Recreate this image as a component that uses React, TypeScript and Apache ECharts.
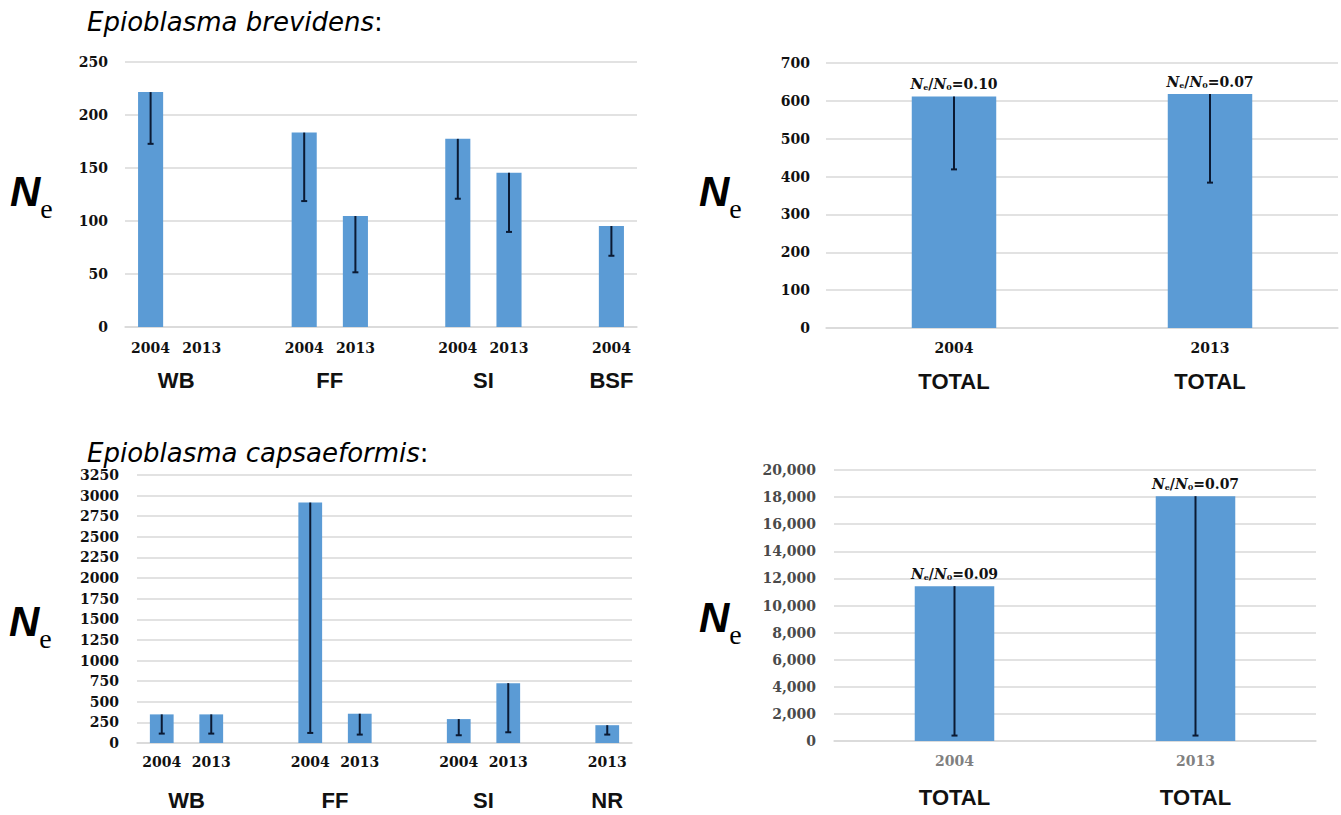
import { useEffect, useRef } from "react";
import * as echarts from "echarts";

// Epioblasma brevidens, per site and sampling year
const brevYears = ["2004", "2013", "", "2004", "2013", "", "2004", "2013", "", "2004"];
const brevSites = ["WB", "WB", "", "FF", "FF", "", "SI", "SI", "", "BSF"];
const brevNe = [221.6, null, null, 183.4, 104.7, null, 177.5, 145.6, null, 95.3];
const brevLower = [172.8, null, null, 118.8, 51.6, null, 121, 89.7, null, 67.2];

// Epioblasma brevidens, all sites pooled
const brevTotalYears = ["2004", "2013"];
const brevTotalSites = ["TOTAL", "TOTAL"];
const brevTotalNe = [611.7, 617.9];
const brevTotalLower = [419, 384];
const brevRatios = ["0.10", "0.07"];

// Epioblasma capsaeformis, per site and sampling year
const capsYears = ["2004", "2013", "", "2004", "2013", "", "2004", "2013", "", "2013"];
const capsSites = ["WB", "WB", "", "FF", "FF", "", "SI", "SI", "", "NR"];
const capsNe = [347, 347, null, 2916, 355, null, 290, 726, null, 216];
const capsLower = [114, 114, null, 122, 102, null, 94, 130, null, 102];

// Epioblasma capsaeformis, all sites pooled
const capsTotalYears = ["2004", "2013"];
const capsTotalSites = ["TOTAL", "TOTAL"];
const capsTotalNe = [11429, 18070];
const capsTotalLower = [401, 401];
const capsRatios = ["0.09", "0.07"];

const BAR = "#5B9BD5";
const GRID_LINE = "#d9d9d9";
const WHISKER = "#0b1a33";
const NUM_FONT = "DejaVu Serif";
const SANS = "Liberation Sans";

type Panel = {
  grid: { left: number; top: number; width: number; height: number };
  years: string[];
  sites: string[];
  ne: (number | null)[];
  lower: (number | null)[];
  ratios?: string[];
  mergeSites: boolean;
  yMax: number;
  yInterval: number;
  barWidth: string;
  yearMargin: number;
  siteMargin: number;
  yMargin: number;
  yColor: string;
  yearColor: string;
  thousands?: boolean;
};

const panels: Panel[] = [
  {
    grid: { left: 125, top: 62, width: 512, height: 265 },
    years: brevYears, sites: brevSites, ne: brevNe, lower: brevLower,
    mergeSites: true, yMax: 250, yInterval: 50, barWidth: "49%",
    yearMargin: 14, siteMargin: 42, yMargin: 17, yColor: "#111", yearColor: "#111",
  },
  {
    grid: { left: 826, top: 63, width: 518, height: 265 },
    years: brevTotalYears, sites: brevTotalSites, ne: brevTotalNe, lower: brevTotalLower,
    ratios: brevRatios,
    mergeSites: false, yMax: 700, yInterval: 100, barWidth: "33%",
    yearMargin: 13, siteMargin: 42, yMargin: 16, yColor: "#111", yearColor: "#111",
  },
  {
    grid: { left: 137, top: 475, width: 495, height: 268 },
    years: capsYears, sites: capsSites, ne: capsNe, lower: capsLower,
    mergeSites: true, yMax: 3250, yInterval: 250, barWidth: "48%",
    yearMargin: 12, siteMargin: 46, yMargin: 18, yColor: "#111", yearColor: "#111",
  },
  {
    grid: { left: 834, top: 470, width: 482, height: 271 },
    years: capsTotalYears, sites: capsTotalSites, ne: capsTotalNe, lower: capsTotalLower,
    ratios: capsRatios,
    mergeSites: false, yMax: 20000, yInterval: 2000, barWidth: "33%",
    yearMargin: 13, siteMargin: 45, yMargin: 18, yColor: "#4a4a4a", yearColor: "#808080",
    thousands: true,
  },
];

// Centre of each site's run of categories, in category-slot units
function siteCentres(sites: string[], merge: boolean): Map<number, string> {
  const out = new Map<number, string>();
  let i = 0;
  while (i < sites.length) {
    if (!sites[i]) { i++; continue; }
    let j = i;
    if (merge) while (j + 1 < sites.length && sites[j + 1] === sites[i]) j++;
    out.set((i + j + 1) / 2, sites[i]);
    i = j + 1;
  }
  return out;
}

const ratioRich = {
  n: { fontFamily: NUM_FONT, fontStyle: "italic", fontWeight: "bold", fontSize: 14, color: "#111", lineHeight: 17, verticalAlign: "bottom" },
  s: { fontFamily: NUM_FONT, fontWeight: "bold", fontSize: 8, color: "#111", lineHeight: 17, verticalAlign: "bottom" },
  t: { fontFamily: NUM_FONT, fontWeight: "bold", fontSize: 14, color: "#111", lineHeight: 17, verticalAlign: "bottom" },
};

function buildOption() {
  const grid: any[] = [];
  const xAxis: any[] = [];
  const yAxis: any[] = [];
  const series: any[] = [];

  panels.forEach((p, i) => {
    grid.push({ ...p.grid, containLabel: false });
    const centres = siteCentres(p.sites, p.mergeSites);

    xAxis.push({
      type: "category",
      gridIndex: i,
      position: "bottom",
      data: p.years,
      axisLine: { show: true, lineStyle: { color: GRID_LINE, width: 1.5 } },
      axisTick: { show: false },
      axisLabel: {
        interval: 0,
        margin: p.yearMargin,
        fontFamily: NUM_FONT,
        fontWeight: "bold",
        fontSize: 14,
        color: p.yearColor,
      },
    });
    xAxis.push({
      type: "value",
      gridIndex: i,
      position: "bottom",
      offset: 0,
      min: 0,
      max: p.years.length,
      interval: 0.5,
      axisLine: { show: false },
      axisTick: { show: false },
      splitLine: { show: false },
      axisLabel: {
        margin: p.siteMargin,
        fontFamily: SANS,
        fontWeight: "bold",
        fontSize: 22,
        color: "#111",
        showMinLabel: true,
        showMaxLabel: true,
        formatter: (v: number) => centres.get(v) ?? "",
      },
    });
    yAxis.push({
      type: "value",
      gridIndex: i,
      min: 0,
      max: p.yMax,
      interval: p.yInterval,
      axisLine: { show: false },
      axisTick: { show: false },
      splitLine: { lineStyle: { color: GRID_LINE, width: 1.5 } },
      axisLabel: {
        margin: p.yMargin,
        fontFamily: NUM_FONT,
        fontWeight: "bold",
        fontSize: 14,
        color: p.yColor,
        formatter: (v: number) => (p.thousands ? v.toLocaleString("en-US") : String(v)),
      },
    });

    const ratios = p.ratios;
    series.push({
      type: "bar",
      xAxisIndex: 2 * i,
      yAxisIndex: i,
      data: p.ne,
      barWidth: p.barWidth,
      itemStyle: { color: BAR },
      label: ratios
        ? {
            show: true,
            position: "top",
            distance: 5,
            formatter: (prm: any) =>
              `{n|N}{s|e}{t|/}{n|N}{s|0}{t|=${ratios[prm.dataIndex]}}`,
            rich: ratioRich,
          }
        : { show: false },
    });

    const whiskers = p.ne
      .map((v, k) => (v == null || p.lower[k] == null ? null : [k, v, p.lower[k]]))
      .filter((d) => d !== null);
    series.push({
      type: "custom",
      xAxisIndex: 2 * i,
      yAxisIndex: i,
      data: whiskers,
      encode: { x: 0, y: [1, 2] },
      z: 5,
      renderItem: (_params: any, api: any) => {
        const k = api.value(0);
        const top = api.coord([k, api.value(1)]);
        const bot = api.coord([k, api.value(2)]);
        const cap = 3;
        return {
          type: "group",
          children: [
            {
              type: "line",
              shape: { x1: top[0], y1: top[1], x2: bot[0], y2: bot[1] },
              style: { stroke: WHISKER, lineWidth: 2 },
            },
            {
              type: "line",
              shape: { x1: bot[0] - cap, y1: bot[1], x2: bot[0] + cap, y2: bot[1] },
              style: { stroke: WHISKER, lineWidth: 2 },
            },
          ],
        };
      },
    });
  });

  // Axis name N with a lowered subscript e
  const neLabel = (x: number, y: number) => ({
    type: "text",
    x,
    y,
    style: {
      text: "{n|N}{e|e}",
      rich: {
        n: { fontFamily: SANS, fontStyle: "italic", fontWeight: "bold", fontSize: 42, color: "#000", lineHeight: 52, verticalAlign: "top" },
        e: { fontFamily: "Liberation Serif", fontSize: 28, color: "#000", lineHeight: 26, verticalAlign: "bottom" },
      },
    },
  });

  const title = (x: number, y: number, name: string) => ({
    type: "text",
    x,
    y,
    style: {
      text: `{i|${name}}{c|:}`,
      rich: {
        i: { fontFamily: "DejaVu Sans", fontStyle: "italic", fontSize: 26, lineHeight: 26, color: "#111" },
        c: { fontFamily: "DejaVu Sans", fontSize: 26, lineHeight: 26, color: "#555" },
      },
    },
  });

  const graphic = [
    title(87, 9, "Epioblasma brevidens"),
    title(87, 440, "Epioblasma capsaeformis"),
    neLabel(10, 170),
    neLabel(699, 170),
    neLabel(9, 600),
    neLabel(699, 596),
  ];

  return { animation: false, backgroundColor: "#fff", grid, xAxis, yAxis, series, graphic };
}

export default function App() {
  const ref = useRef<HTMLDivElement>(null);
  useEffect(() => {
    if (!ref.current) return;
    const chart = echarts.init(ref.current, undefined, { renderer: "svg" });
    chart.setOption(buildOption() as any);
    return () => chart.dispose();
  }, []);
  return (
    <div
      ref={ref}
      style={{ position: "absolute", left: 0, top: 0, width: 1341, height: 815, background: "#fff" }}
    />
  );
}
